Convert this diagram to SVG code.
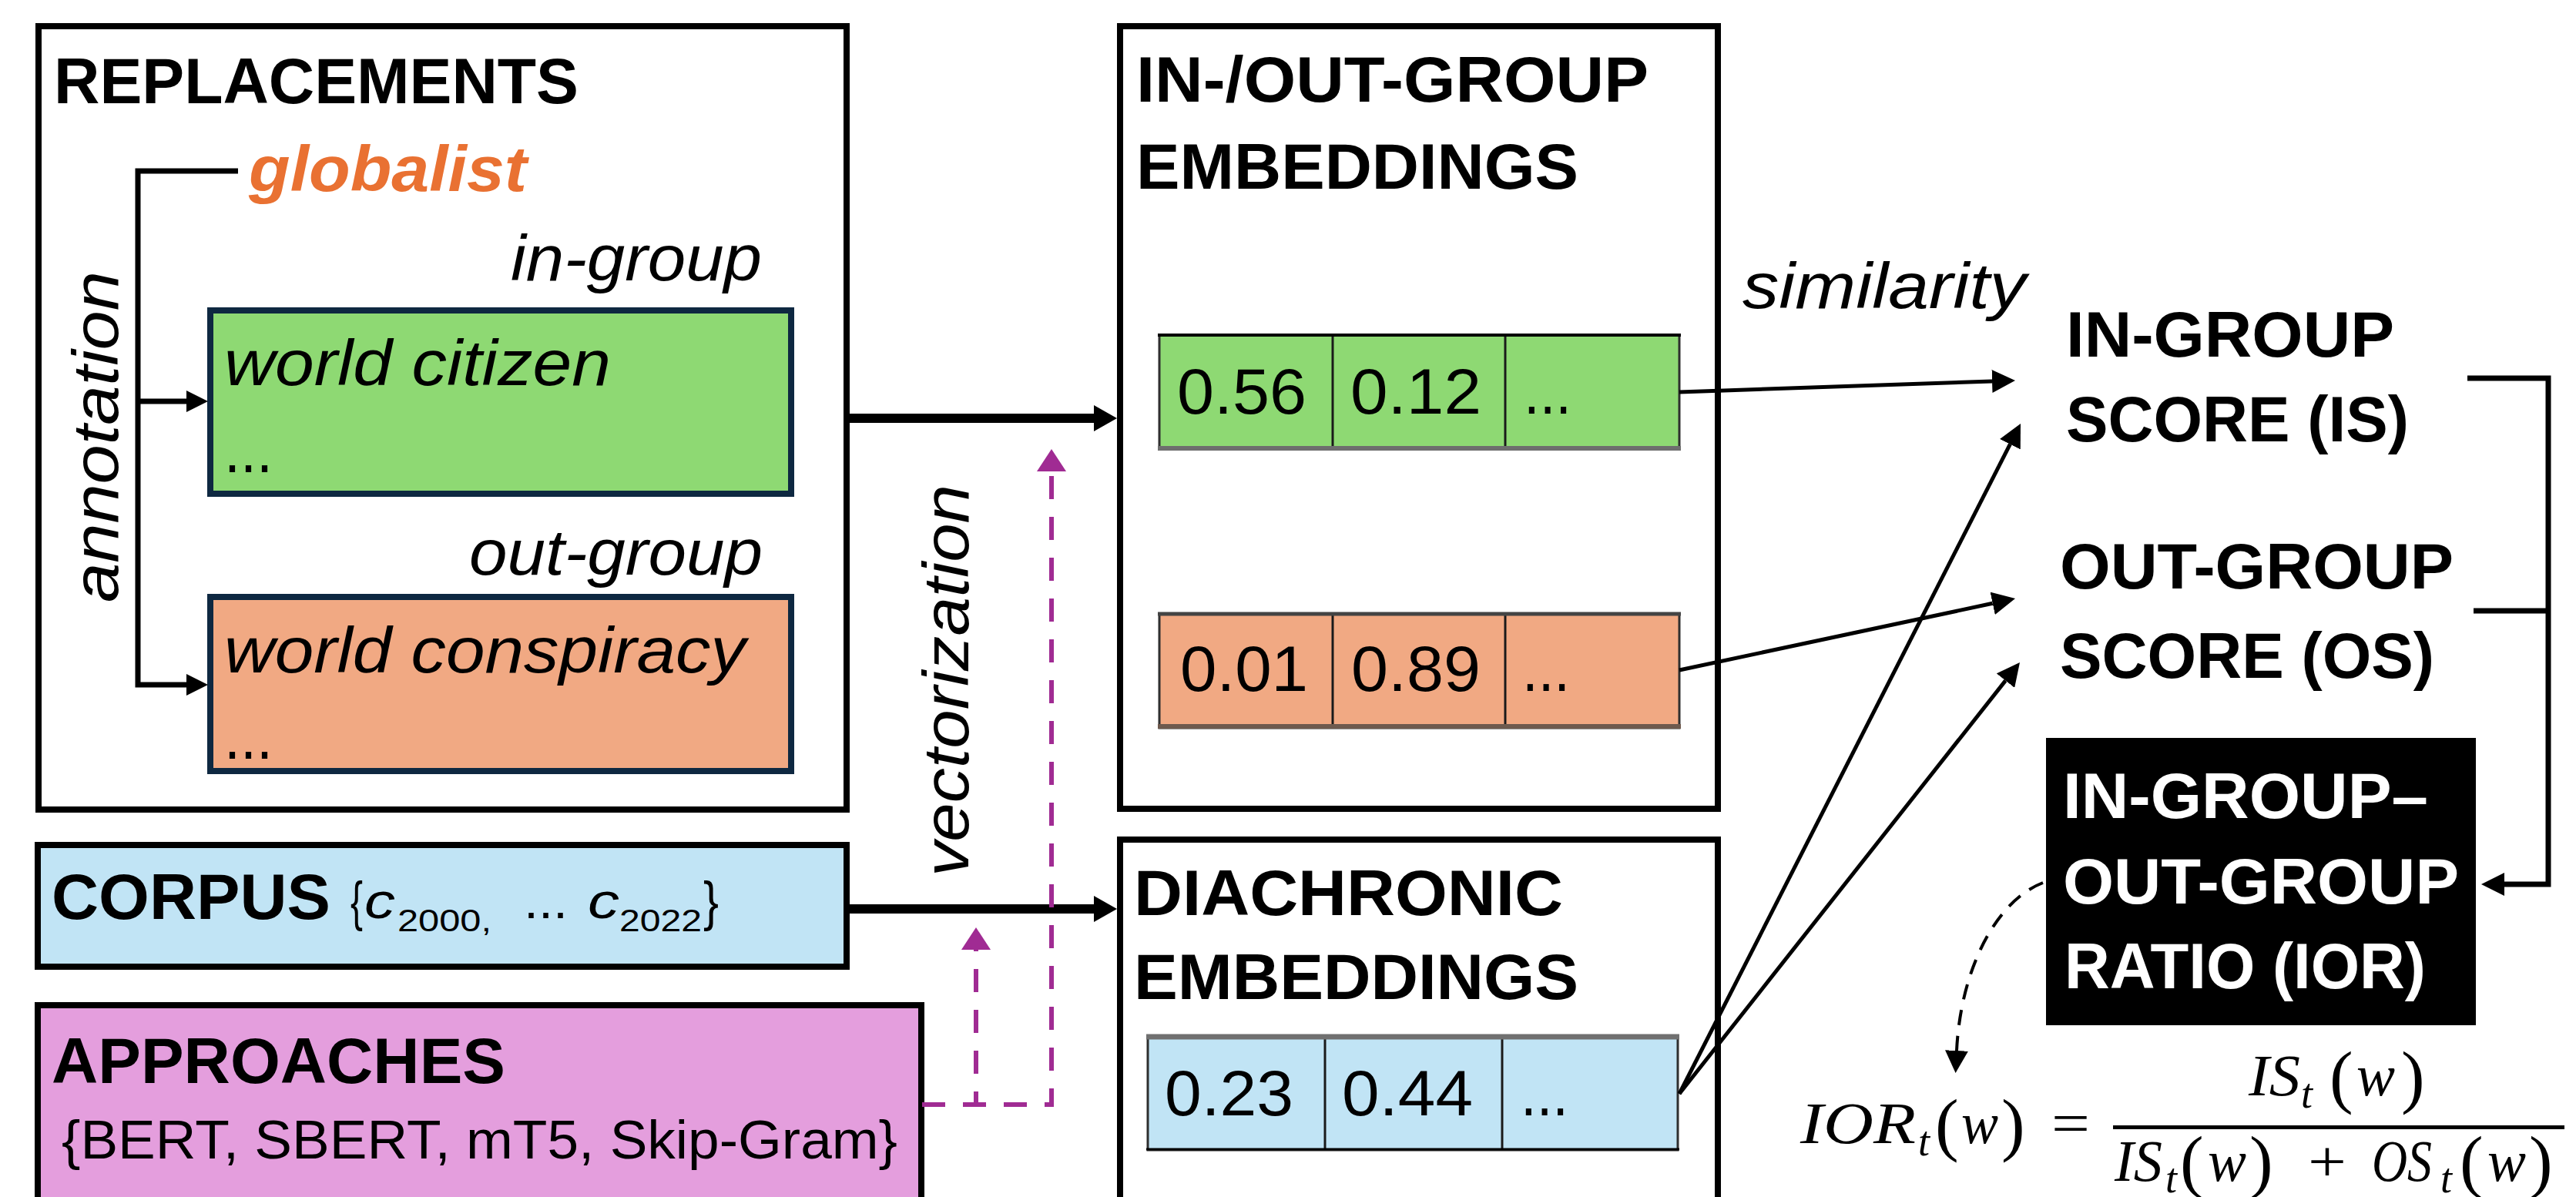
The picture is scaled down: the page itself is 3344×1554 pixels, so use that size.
<svg xmlns="http://www.w3.org/2000/svg" width="3344" height="1554" viewBox="0 0 3344 1554">
  <defs>
    <style>
      text { font-family: "Liberation Sans", Arial, sans-serif; fill: #000; }
      .h { font-weight: bold; font-size: 84px; }
      .hw { font-weight: bold; font-size: 84px; fill: #fff; }
      .it { font-style: italic; font-size: 84px; }
      .num { font-size: 84px; }
      .box { fill: #fff; stroke: #000; stroke-width: 8; }
      .term { stroke: #0E2841; stroke-width: 8; }
      .cell { stroke: #2f2f2f; stroke-width: 3; }
      .div { stroke: #1a1a1a; stroke-width: 3; }
      .math { font-family: "Liberation Serif", "Times New Roman", serif; font-style: italic; font-size: 77px; }
      .mup { font-family: "Liberation Serif", "Times New Roman", serif; font-size: 77px; }
      .par { font-family: "Liberation Serif", "Times New Roman", serif; font-size: 92px; }
      .sub { font-family: "Liberation Serif", "Times New Roman", serif; font-style: italic; font-size: 54px; }
      .thick { fill: none; stroke: #000; stroke-width: 12; }
      .thin { fill: none; stroke: #000; stroke-width: 5; }
      .ann { fill: none; stroke: #000; stroke-width: 7; }
      .mag { fill: none; stroke: #A02B93; stroke-width: 6; stroke-dasharray: 30 23; }
    </style>
    <marker id="ahBig" markerUnits="userSpaceOnUse" markerWidth="30" markerHeight="34" refX="0" refY="17" orient="auto">
      <path d="M0 0L30 17L0 34z" fill="#000"/>
    </marker>
    <marker id="ahThin" markerUnits="userSpaceOnUse" markerWidth="30" markerHeight="30" refX="0" refY="15" orient="auto">
      <path d="M0 0L30 15L0 30z" fill="#000"/>
    </marker>
    <marker id="ahAnn" markerUnits="userSpaceOnUse" markerWidth="28" markerHeight="28" refX="0" refY="14" orient="auto">
      <path d="M0 0L28 14L0 28z" fill="#000"/>
    </marker>
    <marker id="ahMag" markerUnits="userSpaceOnUse" markerWidth="29" markerHeight="38" refX="0" refY="19" orient="auto">
      <path d="M0 0L29 19L0 38z" fill="#A02B93"/>
    </marker>
    <marker id="ahDash" markerUnits="userSpaceOnUse" markerWidth="29" markerHeight="30" refX="0" refY="15" orient="auto">
      <path d="M0 0L29 15L0 30z" fill="#000"/>
    </marker>
  </defs>

  <rect width="3344" height="1554" fill="#fff"/>

  <!-- replacement terms with in-group / out-group annotations -->
  <g id="replacements">
    <rect class="box" x="50" y="34" width="1049" height="1017"/>
    <text class="h" x="70" y="134" textLength="681" lengthAdjust="spacingAndGlyphs">REPLACEMENTS</text>
    <text x="323" y="248" font-size="84" font-weight="bold" font-style="italic" style="fill:#E97132" textLength="361" lengthAdjust="spacingAndGlyphs">globalist</text>
    <text class="it" transform="translate(153,782) rotate(-90)" textLength="430" lengthAdjust="spacingAndGlyphs">annotation</text>
    <text class="it" x="663" y="364" textLength="326" lengthAdjust="spacingAndGlyphs">in-group</text>
    <rect class="term" x="273" y="403" width="754" height="238" fill="#8ED973"/>
    <text class="it" x="291" y="500" textLength="502" lengthAdjust="spacingAndGlyphs">world citizen</text>
    <text class="num" x="291" y="613" textLength="63" lengthAdjust="spacingAndGlyphs">...</text>
    <text class="it" x="609" y="746" textLength="381" lengthAdjust="spacingAndGlyphs">out-group</text>
    <rect class="term" x="273" y="775" width="754" height="226" fill="#F1A983"/>
    <text class="it" x="291" y="873" textLength="677" lengthAdjust="spacingAndGlyphs">world conspiracy</text>
    <text class="num" x="291" y="985" textLength="63" lengthAdjust="spacingAndGlyphs">...</text>
  </g>

  <!-- corpus node -->
  <g id="corpus">
    <rect x="49" y="1097" width="1050" height="158" fill="#C1E4F5" stroke="#000" stroke-width="8"/>
    <text class="h" x="67" y="1193" textLength="362" lengthAdjust="spacingAndGlyphs">CORPUS</text>
    <text x="455" y="1194" font-size="70" textLength="16" lengthAdjust="spacingAndGlyphs">{</text>
    <text x="473" y="1192" font-size="64" font-style="italic" textLength="40" lengthAdjust="spacingAndGlyphs">c</text>
    <text x="516" y="1209" font-size="40" textLength="122" lengthAdjust="spacingAndGlyphs">2000,</text>
    <text x="680" y="1192" font-size="64" textLength="57" lengthAdjust="spacingAndGlyphs">...</text>
    <text x="763" y="1192" font-size="64" font-style="italic" textLength="41" lengthAdjust="spacingAndGlyphs">c</text>
    <text x="804" y="1209" font-size="40" textLength="107" lengthAdjust="spacingAndGlyphs">2022</text>
    <text x="913" y="1194" font-size="70" textLength="20" lengthAdjust="spacingAndGlyphs">}</text>
  </g>

  <!-- embedding approaches node -->
  <g id="approaches">
    <rect x="49" y="1305" width="1147" height="300" fill="#E49EDD" stroke="#000" stroke-width="8"/>
    <text class="h" x="67" y="1406" textLength="589" lengthAdjust="spacingAndGlyphs">APPROACHES</text>
    <text x="80" y="1504" font-size="70" textLength="1085" lengthAdjust="spacingAndGlyphs">{BERT, SBERT, mT5, Skip-Gram}</text>
  </g>

  <!-- in-/out-group embedding vectors -->
  <g id="group-embeddings">
    <rect class="box" x="1454" y="34" width="776" height="1016"/>
    <text class="h" x="1475" y="132" textLength="665" lengthAdjust="spacingAndGlyphs">IN-/OUT-GROUP</text>
    <text class="h" x="1475" y="245" textLength="574" lengthAdjust="spacingAndGlyphs">EMBEDDINGS</text>
    <g id="vec-in">
      <rect class="cell" x="1505" y="435" width="675" height="148" fill="#8ED973"/>
      <line class="div" x1="1730" y1="435" x2="1730" y2="583"/>
      <line class="div" x1="1954" y1="435" x2="1954" y2="583"/>
      <line x1="1503" y1="435" x2="2182" y2="435" stroke="#000" stroke-width="4"/>
      <line x1="1503" y1="582" x2="2182" y2="582" stroke="#6e6e6e" stroke-width="6"/>
      <text class="num" x="1528" y="537" textLength="168" lengthAdjust="spacingAndGlyphs">0.56</text>
      <text class="num" x="1753" y="537" textLength="170" lengthAdjust="spacingAndGlyphs">0.12</text>
      <text class="num" x="1978" y="537" textLength="62" lengthAdjust="spacingAndGlyphs">...</text>
    </g>
    <g id="vec-out">
      <rect class="cell" x="1505" y="797" width="675" height="148" fill="#F1A983"/>
      <line class="div" x1="1730" y1="797" x2="1730" y2="945"/>
      <line class="div" x1="1954" y1="797" x2="1954" y2="945"/>
      <line x1="1503" y1="797" x2="2182" y2="797" stroke="#444" stroke-width="5"/>
      <line x1="1503" y1="943" x2="2182" y2="943" stroke="#6e5a4e" stroke-width="6"/>
      <text class="num" x="1532" y="897" textLength="166" lengthAdjust="spacingAndGlyphs">0.01</text>
      <text class="num" x="1754" y="897" textLength="168" lengthAdjust="spacingAndGlyphs">0.89</text>
      <text class="num" x="1976" y="897" textLength="62" lengthAdjust="spacingAndGlyphs">...</text>
    </g>
  </g>

  <!-- diachronic embedding vector -->
  <g id="diachronic-embeddings">
    <rect class="box" x="1454" y="1090" width="776" height="520"/>
    <text class="h" x="1472" y="1188" textLength="557" lengthAdjust="spacingAndGlyphs">DIACHRONIC</text>
    <text class="h" x="1472" y="1297" textLength="577" lengthAdjust="spacingAndGlyphs">EMBEDDINGS</text>
    <rect class="cell" x="1490" y="1345" width="688" height="148" fill="#C1E4F5"/>
    <line class="div" x1="1720" y1="1345" x2="1720" y2="1493"/>
    <line class="div" x1="1950" y1="1345" x2="1950" y2="1493"/>
    <line x1="1488" y1="1346" x2="2180" y2="1346" stroke="#707070" stroke-width="7"/>
    <line x1="1488" y1="1492" x2="2180" y2="1492" stroke="#000" stroke-width="3"/>
    <text class="num" x="1512" y="1448" textLength="167" lengthAdjust="spacingAndGlyphs">0.23</text>
    <text class="num" x="1742" y="1448" textLength="170" lengthAdjust="spacingAndGlyphs">0.44</text>
    <text class="num" x="1974" y="1448" textLength="62" lengthAdjust="spacingAndGlyphs">...</text>
  </g>

  <!-- score labels -->
  <g id="in-group-score">
    <text class="h" x="2682" y="463" textLength="426" lengthAdjust="spacingAndGlyphs">IN-GROUP</text>
    <text class="h" x="2682" y="573" textLength="445" lengthAdjust="spacingAndGlyphs">SCORE (IS)</text>
  </g>
  <g id="out-group-score">
    <text class="h" x="2674" y="764" textLength="511" lengthAdjust="spacingAndGlyphs">OUT-GROUP</text>
    <text class="h" x="2674" y="880" textLength="486" lengthAdjust="spacingAndGlyphs">SCORE (OS)</text>
  </g>
  <g id="ior">
    <rect x="2656" y="958" width="558" height="373" fill="#000"/>
    <text class="hw" x="2678" y="1062" textLength="474" lengthAdjust="spacingAndGlyphs">IN-GROUP–</text>
    <text class="hw" x="2678" y="1173" textLength="514" lengthAdjust="spacingAndGlyphs">OUT-GROUP</text>
    <text class="hw" x="2680" y="1283" textLength="469" lengthAdjust="spacingAndGlyphs">RATIO (IOR)</text>
  </g>

  <!-- ratio formula -->
  <g id="formula">
    <text class="math" x="2337" y="1484" textLength="150" lengthAdjust="spacingAndGlyphs">IOR</text>
    <text class="sub" x="2490" y="1500">t</text>
    <text class="par" x="2512" y="1490">(</text>
    <text class="math" x="2546" y="1484" textLength="48" lengthAdjust="spacingAndGlyphs">w</text>
    <text class="par" x="2598" y="1490">)</text>
    <text class="mup" x="2663" y="1484" textLength="50" lengthAdjust="spacingAndGlyphs">=</text>
    <rect x="2743" y="1461" width="586" height="5" fill="#000"/>
    <text class="math" x="2919" y="1422" textLength="67" lengthAdjust="spacingAndGlyphs">IS</text>
    <text class="sub" x="2987" y="1438">t</text>
    <text class="par" x="3024" y="1428">(</text>
    <text class="math" x="3059" y="1422" textLength="50" lengthAdjust="spacingAndGlyphs">w</text>
    <text class="par" x="3117" y="1428">)</text>
    <text class="math" x="2745" y="1533" textLength="62" lengthAdjust="spacingAndGlyphs">IS</text>
    <text class="sub" x="2811" y="1548">t</text>
    <text class="par" x="2830" y="1538">(</text>
    <text class="math" x="2866" y="1533" textLength="50" lengthAdjust="spacingAndGlyphs">w</text>
    <text class="par" x="2920" y="1538">)</text>
    <text class="mup" x="2996" y="1533" textLength="50" lengthAdjust="spacingAndGlyphs">+</text>
    <text class="math" x="3079" y="1533" textLength="78" lengthAdjust="spacingAndGlyphs">OS</text>
    <text class="sub" x="3168" y="1548">t</text>
    <text class="par" x="3193" y="1538">(</text>
    <text class="math" x="3229" y="1533" textLength="50" lengthAdjust="spacingAndGlyphs">w</text>
    <text class="par" x="3283" y="1538">)</text>
  </g>

  <!-- connectors -->
  <g id="connectors">
    <!-- annotation bracket -->
    <path class="ann" d="M309 222H179V889H242" marker-end="url(#ahAnn)"/>
    <path class="ann" d="M179 521H242" marker-end="url(#ahAnn)"/>
    <!-- main flows -->
    <path class="thick" d="M1099 543H1420" marker-end="url(#ahBig)"/>
    <path class="thick" d="M1103 1180H1420" marker-end="url(#ahBig)"/>
    <!-- vectorization (dashed) -->
    <path class="mag" d="M1197 1434H1365V612" marker-end="url(#ahMag)"/>
    <path class="mag" d="M1267 1434V1233" style="stroke-dashoffset:13" marker-end="url(#ahMag)"/>
    <text class="it" transform="translate(1257,1138) rotate(-90)" font-size="90" textLength="509" lengthAdjust="spacingAndGlyphs">vectorization</text>
    <!-- similarity -->
    <text class="it" x="2262" y="400" textLength="368" lengthAdjust="spacingAndGlyphs">similarity</text>
    <path class="thin" d="M2180 509L2586 495" marker-end="url(#ahThin)"/>
    <path class="thin" d="M2180 870L2586.7 783.3" marker-end="url(#ahThin)"/>
    <path class="thin" d="M2180 1420L2609.4 576.7" marker-end="url(#ahThin)"/>
    <path class="thin" d="M2180 1420L2603.4 883.6" marker-end="url(#ahThin)"/>
    <!-- score bracket into ratio -->
    <path class="ann" d="M3203 491H3308V1148H3251" stroke-width="6" marker-end="url(#ahThin)"/>
    <path class="ann" d="M3211 793H3308" stroke-width="6"/>
    <!-- ratio to formula (dashed curve) -->
    <path d="M2652 1146C2590 1170 2545 1260 2540 1364" fill="none" stroke="#000" stroke-width="4" stroke-dasharray="20 14" marker-end="url(#ahDash)"/>
  </g>
</svg>
